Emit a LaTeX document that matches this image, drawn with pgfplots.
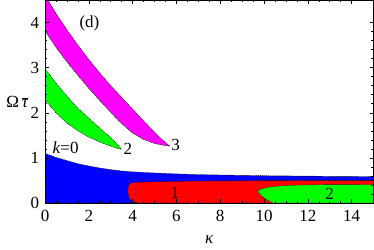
\documentclass[border=0pt]{standalone}
\usepackage{pgfplots}
\pgfplotsset{compat=1.18}
\usepackage{fontspec}
\setmainfont{Liberation Serif}
\definecolor{mmagenta}{RGB}{255,0,255}
\definecolor{mgreen}{RGB}{0,255,0}
\definecolor{mblue}{RGB}{0,0,255}
\definecolor{mred}{RGB}{255,0,0}
\begin{document}
\fontsize{17bp}{20bp}\selectfont
\begin{tikzpicture}
\begin{axis}[
  scale only axis, width=328.5bp, height=203bp,
  xmin=0, xmax=15, ymin=0, ymax=4.5,
  xtick={0,2,...,14}, ytick={0,1,2,3,4},
  minor x tick num=3, minor y tick num=4,
  tick align=inside,
  major tick length=4bp, minor tick length=2.4bp,
  tick style={black, line width=0.5pt},
  axis line style={line width=0.6pt},
  /pgf/number format/assume math mode=true,
  axis on top,
  xlabel={\textit{κ}},
  xlabel style={at={(axis description cs:0.5,-0.18)}, anchor=center},
  ylabel={Ω\,$\overline{\mbox{\itshape τ}}$},
  ylabel style={rotate=-90, at={(axis description cs:-0.085,0.5)}, anchor=center},
  xticklabel style={yshift=-1bp},
  clip=true,
]
% k=0 blue region
\addplot[fill=mblue, draw=black, line width=0.4pt, dash pattern=on 1.2pt off 0.8pt] coordinates {
 (0,0) (0,1.1) (0.5,1.01) (1,0.94) (1.5,0.87) (2,0.82) (2.5,0.775) (3,0.74) (3.5,0.71)
 (4,0.69) (5,0.665) (6,0.645) (7,0.63) (8,0.62) (10,0.605) (12,0.595) (15,0.585) (15,0)
} -- cycle;
% k=1 red region
\addplot[fill=mred, draw=black, line width=0.4pt, dash pattern=on 1.2pt off 0.8pt] coordinates {
 (4.2,0) (3.95,0.04) (3.83,0.12) (3.78,0.25) (3.8,0.38) (3.88,0.44) (4.2,0.46) (5,0.47)
 (6,0.48) (8,0.49) (10,0.495) (12,0.5) (15,0.5) (15,0)
} -- cycle;
% k=2 lower green region
\addplot[fill=mgreen, draw=black, line width=0.4pt, dash pattern=on 1.2pt off 0.8pt] coordinates {
 (10.4,0) (10.2,0.05) (9.95,0.13) (9.75,0.22) (9.72,0.27) (9.85,0.31) (10.2,0.35)
 (10.8,0.38) (11.5,0.395) (12.5,0.405) (15,0.41) (15,0)
} -- cycle;
% k=2 upper green band
\addplot[fill=mgreen, draw=black, line width=0.4pt, dash pattern=on 1.2pt off 0.8pt] coordinates {
 (0,2.29) (0.5,2.0) (1,1.77) (1.5,1.6) (2,1.46) (2.5,1.35) (3,1.26) (3.3,1.21) (3.5,1.19)
 (3.3,1.3) (3,1.45) (2.5,1.66) (2,1.88) (1.5,2.1) (1,2.37) (0.5,2.66) (0,2.98)
} -- cycle;
% k=3 magenta band
\addplot[fill=mmagenta, draw=black, line width=0.4pt, dash pattern=on 1.2pt off 0.8pt] coordinates {
 (0,3.82) (0.5,3.45) (1,3.13) (1.5,2.83) (2,2.54) (2.5,2.27) (3,2.01) (3.5,1.76) (4,1.55)
 (4.5,1.41) (5,1.32) (5.4,1.28) (5.7,1.26)
 (5.5,1.34) (5.2,1.47) (5,1.57) (4.5,1.82) (4,2.08) (3.5,2.34) (3,2.6) (2.5,2.88)
 (2,3.18) (1.5,3.5) (1,3.84) (0.5,4.2) (0.2,4.44) (0.12,4.5) (0,4.5)
} -- cycle;
\node at (axis cs:2.03,3.98) {(d)};
\node at (axis cs:0.94,1.22) {\textit{k}=0};
\node at (axis cs:3.78,1.19) {2};
\node at (axis cs:5.97,1.29) {3};
\node at (axis cs:5.94,0.23) {1};
\node at (axis cs:13.0,0.21) {2};
\end{axis}
\pgfresetboundingbox
\path (current axis.south west) ++(-45bp,-47bp) coordinate (bl);
\path (current axis.north east) ++(0.5bp,0bp) coordinate (tr);
\useasboundingbox (bl) rectangle (tr);
\end{tikzpicture}
\end{document}
